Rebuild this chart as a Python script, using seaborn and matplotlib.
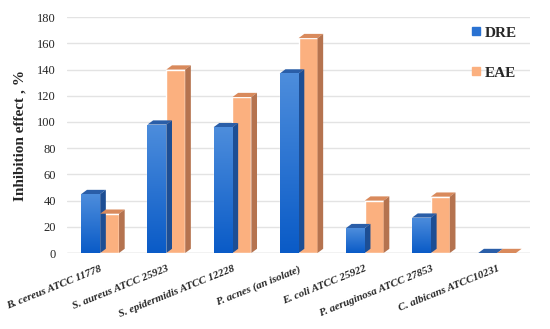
import numpy as np
import pandas as pd
import seaborn as sns
import matplotlib.pyplot as plt
from matplotlib.patches import Polygon
from matplotlib.lines import Line2D
from matplotlib.colors import LinearSegmentedColormap

# Data
organisms = ['B. cereus ATCC 11778', 'S. aureus ATCC 25923', 'S. epidermidis ATCC 12228',
             'P. acnes (an isolate)', 'E. coli ATCC 25922', 'P. aeruginosa ATCC 27853',
             'C. albicans ATCC10231']
dre = [45, 98, 96, 137, 19, 27, 0]
eae = [30, 140, 119, 164, 40, 43, 0]
series = ['DRE', 'EAE']
yticks = [0, 20, 40, 60, 80, 100, 120, 140, 160, 180]

df = pd.DataFrame({
    'organism': organisms * 2,
    'extract': ['DRE'] * len(organisms) + ['EAE'] * len(organisms),
    'value': dre + eae,
})

front = {'DRE': '#2a72d2', 'EAE': '#fbb07f'}
top = {'DRE': '#2a5ea8', 'EAE': '#d98a5c'}
side = {'DRE': '#1d4e94', 'EAE': '#b5734f'}

sns.set_theme(style='white')
plt.rcParams['font.family'] = ['Liberation Serif', 'DejaVu Serif']

fig = plt.figure(figsize=(5.5, 3.29), dpi=100)
ax = fig.add_axes([0.122, 0.231, 0.842, 0.717])

sns.barplot(data=df, x='organism', y='value', hue='extract', palette=front,
            width=0.57, ax=ax, legend=False, saturation=1, zorder=3)

ax.set_ylim(0, 180)
ax.set_xlim(-0.5, len(organisms) - 0.5)
ax.set_yticks(yticks)
ax.yaxis.grid(True, color='#e3e3e3', lw=1, zorder=0)
for s in ax.spines.values():
    s.set_visible(False)
ax.axhline(0, color='#d9d9d9', lw=1, zorder=1)

# fake 3D depth on each bar, derived from the bar geometry
blue_cmap = LinearSegmentedColormap.from_list('b', ['#4d8ddc', '#0a5bc7'])
n = len(organisms)
for i, bar in enumerate(ax.patches[:2 * n]):
    key = 'DRE' if i < n else 'EAE'
    x0, w, h = bar.get_x(), bar.get_width(), bar.get_height()
    x1 = x0 + w
    dx, dy = w * 0.3, 3.2
    ax.add_patch(Polygon([(x0, h), (x0 + dx, h + dy), (x1 + dx, h + dy), (x1, h)],
                         closed=True, color=top[key], zorder=3, lw=0))
    ax.add_patch(Polygon([(x1, 0), (x1 + dx, dy), (x1 + dx, h + dy), (x1, h)],
                         closed=True, color=side[key], zorder=3, lw=0))
    if key == 'DRE' and h > 0:
        grad = np.linspace(0, 1, 64).reshape(-1, 1)
        im = ax.imshow(grad, cmap=blue_cmap, aspect='auto', extent=(x0, x1, 0, h),
                       origin='upper', zorder=3.5)
        im.set_clip_path(bar)
        ax.set_xlim(-0.5, n - 0.5)
        ax.set_ylim(0, 180)

ax.set_xlabel('')
ax.set_ylabel('Inhibition effect , %', fontsize=11, fontweight='bold', labelpad=8)
ax.tick_params(axis='y', labelsize=9, length=0, pad=8)
ax.tick_params(axis='x', length=0, pad=8)
ax.set_xticks(range(n))
ax.set_xticklabels(organisms, rotation=22, ha='right', rotation_mode='anchor',
                   fontsize=7.8, fontstyle='italic', fontweight='bold')

handles = [Line2D([], [], marker='s', ls='', markersize=5.5, color=front[s]) for s in series]
leg = ax.legend(handles, series, loc='upper right', bbox_to_anchor=(1.0, 1.02),
                frameon=False, handlelength=0.5, labelspacing=1.7,
                handletextpad=0.3, prop={'weight': 'bold', 'size': 11})

fig.savefig('out.png', dpi=100)
